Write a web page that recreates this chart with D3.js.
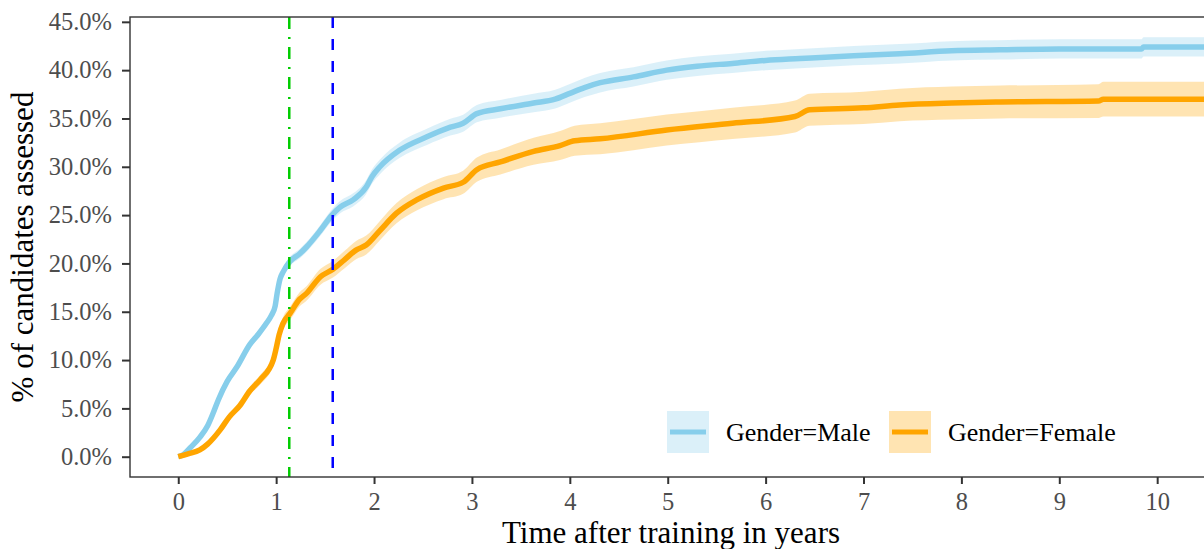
<!DOCTYPE html>
<html>
<head>
<meta charset="utf-8">
<style>
  body { margin: 0; background: white; }
  svg { display: block; font-family: "Liberation Serif", "Times New Roman", serif; }
</style>
</head>
<body>
<div id="container"></div>
<script src="https://cdn.jsdelivr.net/npm/d3@7"></script>
<script>

// cumulative % assessed (years, %, CI half width in %)
const maleTime = [0, 0.05, 0.12, 0.22, 0.30, 0.36, 0.41, 0.50, 0.60, 0.73, 0.82, 0.90, 0.95, 0.99, 1.01, 1.04, 1.07, 1.14, 1.24, 1.31, 1.45, 1.57, 1.65, 1.79, 1.92, 1.98, 2.06, 2.26, 2.54, 2.78, 2.91, 3.05, 3.29, 3.63, 3.85, 4.00, 4.15, 4.31, 4.65, 4.99, 5.30, 5.66, 6.00, 6.35, 6.90, 7.37, 7.90, 8.39, 9.00, 9.84, 9.86, 10.60];
const maleEst  = [0, 0.2, 0.9, 2.0, 3.2, 4.6, 5.9, 7.8, 9.3, 11.6, 12.7, 13.8, 14.6, 15.6, 16.9, 18.4, 19.1, 20.2, 21.0, 21.7, 23.4, 25.0, 25.8, 26.6, 27.9, 29.0, 30.0, 31.7, 33.1, 34.1, 34.5, 35.5, 36.0, 36.6, 37.0, 37.6, 38.2, 38.7, 39.3, 40.0, 40.4, 40.7, 41.0, 41.2, 41.5, 41.7, 42.0, 42.1, 42.2, 42.2, 42.4, 42.4];
const maleCI   = [0, 0.05, 0.1, 0.15, 0.2, 0.22, 0.25, 0.3, 0.32, 0.35, 0.38, 0.4, 0.41, 0.42, 0.44, 0.45, 0.46, 0.48, 0.5, 0.52, 0.56, 0.6, 0.63, 0.68, 0.72, 0.74, 0.76, 0.8, 0.84, 0.87, 0.88, 0.9, 0.92, 0.95, 0.96, 0.97, 0.98, 1.0, 1.0, 1.0, 1.0, 1.0, 1.0, 1.0, 1.0, 1.0, 1.0, 1.0, 1.0, 1.0, 1.0, 1.0];

const femaleTime = [0, 0.10, 0.22, 0.30, 0.43, 0.52, 0.63, 0.73, 0.84, 0.97, 1.00, 1.03, 1.07, 1.14, 1.24, 1.31, 1.45, 1.58, 1.70, 1.82, 1.92, 2.06, 2.23, 2.44, 2.71, 2.91, 3.05, 3.29, 3.63, 3.90, 4.05, 4.31, 4.99, 5.66, 6.30, 6.45, 7.00, 7.37, 7.90, 8.40, 9.40, 9.45, 10.60];
const femaleEst  = [0, 0.3, 0.7, 1.3, 2.8, 4.1, 5.3, 6.8, 8.0, 10.0, 11.2, 12.6, 13.8, 14.8, 16.3, 16.9, 18.6, 19.4, 20.4, 21.4, 21.9, 23.4, 25.2, 26.6, 27.8, 28.4, 29.7, 30.5, 31.6, 32.2, 32.7, 32.9, 33.8, 34.5, 35.2, 35.9, 36.1, 36.4, 36.6, 36.7, 36.8, 37.0, 37.0];
const femaleCI   = [0, 0.05, 0.1, 0.15, 0.25, 0.3, 0.35, 0.42, 0.5, 0.56, 0.58, 0.61, 0.64, 0.68, 0.72, 0.75, 0.82, 0.86, 0.9, 0.95, 0.98, 1.0, 1.05, 1.1, 1.15, 1.2, 1.25, 1.3, 1.4, 1.5, 1.55, 1.6, 1.6, 1.62, 1.65, 1.65, 1.67, 1.68, 1.7, 1.7, 1.75, 1.8, 1.8];

const groups = ['Gender=Male', 'Gender=Female'];
const xTicks = [0, 1, 2, 3, 4, 5, 6, 7, 8, 9, 10];
const yTicks = [0, 5, 10, 15, 20, 25, 30, 35, 40, 45];
const greenLineYear = 1.134;
const blueLineYear = 1.578;

const width = 1204, height = 549;
const panelLeft = 130, panelRight = 1212, panelTop = 17, panelBottom = 477;

const series = [
  { name: groups[0], line: '#87CEEB', fill: '#87CEEB',
    pts: maleTime.map((t, i) => ({ t, v: maleEst[i], ci: maleCI[i] })) },
  { name: groups[1], line: '#FFA500', fill: '#FFA500',
    pts: femaleTime.map((t, i) => ({ t, v: femaleEst[i], ci: femaleCI[i] })) }
];

const x = d3.scaleLinear().domain([-0.493, 10.56]).range([panelLeft, panelRight]);
const y = d3.scaleLinear().domain([-2.1, 45.5]).range([panelBottom, panelTop]);

const svg = d3.create('svg')
    .attr('width', width)
    .attr('height', height);

svg.append('clipPath').attr('id', 'panel')
  .append('rect').attr('x', panelLeft).attr('y', panelTop)
    .attr('width', panelRight - panelLeft).attr('height', panelBottom - panelTop);

const plot = svg.append('g').attr('clip-path', 'url(#panel)');

// ribbons
plot.selectAll('path.ribbon').data(series).enter().append('path')
    .attr('class', 'ribbon')
    .attr('fill', d => d.fill)
    .attr('fill-opacity', 0.3)
    .attr('d', d => d3.area()
        .curve(d3.curveMonotoneX)
        .x(p => x(p.t))
        .y0(p => y(p.v - p.ci))
        .y1(p => y(p.v + p.ci))(d.pts));

// estimate lines
plot.selectAll('path.est').data(series).enter().append('path')
    .attr('class', 'est')
    .attr('fill', 'none')
    .attr('stroke', d => d.line)
    .attr('stroke-width', 5.5)
    .attr('stroke-linejoin', 'round')
    .attr('d', d => d3.line().curve(d3.curveMonotoneX)
        .x(p => x(p.t)).y(p => y(p.v))(d.pts));

// reference lines
plot.append('line')
    .attr('x1', x(greenLineYear)).attr('x2', x(greenLineYear))
    .attr('y1', panelTop).attr('y2', panelBottom)
    .attr('stroke', '#00CD00').attr('stroke-width', 2.5)
    .attr('stroke-dasharray', '12,8,2,8');
plot.append('line')
    .attr('x1', x(blueLineYear)).attr('x2', x(blueLineYear))
    .attr('y1', panelTop).attr('y2', panelBottom)
    .attr('stroke', '#0000FF').attr('stroke-width', 2.5)
    .attr('stroke-dasharray', '11,11');

// panel border
svg.append('rect')
    .attr('x', panelLeft).attr('y', panelTop)
    .attr('width', panelRight - panelLeft).attr('height', panelBottom - panelTop)
    .attr('fill', 'none').attr('stroke', '#333').attr('stroke-width', 1.4);

// y axis
const yAxis = svg.append('g').attr('transform', `translate(${panelLeft},0)`)
    .call(d3.axisLeft(y).tickValues(yTicks).tickSize(8).tickPadding(10)
        .tickFormat(d => d.toFixed(1) + '%'));
yAxis.select('.domain').remove();
yAxis.selectAll('line').attr('stroke', '#333').attr('stroke-width', 2);
yAxis.selectAll('text').attr('fill', '#4d4d4d').style('font-size', '24.5px')
    .style('font-family', '"Liberation Serif", serif');

// x axis
const xAxis = svg.append('g').attr('transform', `translate(0,${panelBottom})`)
    .call(d3.axisBottom(x).tickValues(xTicks).tickSize(7).tickPadding(9));
xAxis.select('.domain').remove();
xAxis.selectAll('line').attr('stroke', '#333').attr('stroke-width', 2);
xAxis.selectAll('text').attr('fill', '#4d4d4d').style('font-size', '24.5px')
    .style('font-family', '"Liberation Serif", serif');

// titles
svg.append('text')
    .attr('x', (panelLeft + panelRight) / 2).attr('y', 543)
    .attr('text-anchor', 'middle')
    .style('font-size', '31px')
    .text('Time after training in years');

svg.append('text')
    .attr('transform', `translate(33,${(panelTop + panelBottom) / 2}) rotate(-90)`)
    .attr('text-anchor', 'middle')
    .style('font-size', '31px')
    .text('% of candidates assessed');

// legend
const keyX = [667, 889];
const legend = svg.selectAll('g.key').data(series).enter().append('g')
    .attr('class', 'key')
    .attr('transform', (d, i) => `translate(${keyX[i]},411)`);
legend.append('rect')
    .attr('width', 42).attr('height', 42)
    .attr('fill', d => d.fill).attr('fill-opacity', 0.3);
legend.append('line')
    .attr('x1', 3).attr('x2', 39).attr('y1', 21).attr('y2', 21)
    .attr('stroke', d => d.line).attr('stroke-width', 5);
legend.append('text')
    .attr('x', 59).attr('y', 21).attr('dy', '0.35em')
    .style('font-size', '26px')
    .text(d => d.name);

container.append(svg.node());

</script>
</body>
</html>
